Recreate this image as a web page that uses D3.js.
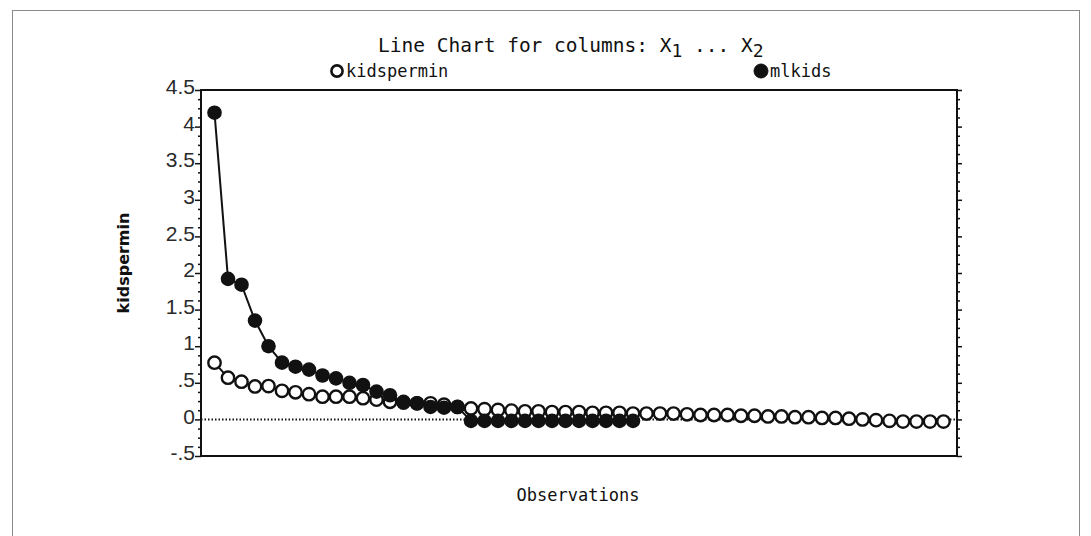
<!DOCTYPE html>
<html>
<head>
<meta charset="utf-8">
<script src="https://cdn.jsdelivr.net/npm/d3@7"></script>
<style>
  html, body { margin: 0; padding: 0; background: #fff; }
  svg { display: block; }
</style>
</head>
<body>
<svg id="chart" width="1091" height="536"></svg>
<script>
// ---- data ----
const title = "Line Chart for columns: ";
const seriesNames = ["kidspermin", "mlkids"];
const kidspermin = [0.775, 0.57, 0.515, 0.45, 0.455, 0.39, 0.37, 0.345, 0.31, 0.31,
  0.31, 0.29, 0.27, 0.24, 0.23, 0.22, 0.22, 0.2, 0.17, 0.15,
  0.14, 0.13, 0.12, 0.11, 0.11, 0.1, 0.1, 0.1, 0.09, 0.09,
  0.09, 0.08, 0.08, 0.08, 0.08, 0.07, 0.06, 0.06, 0.06, 0.05,
  0.05, 0.04, 0.04, 0.03, 0.03, 0.02, 0.02, 0.01, 0.0, -0.01,
  -0.02, -0.03, -0.03, -0.03, -0.03];
const mlkids = [4.19, 1.92, 1.84, 1.35, 1.0, 0.775, 0.72, 0.68, 0.6, 0.56,
  0.5, 0.47, 0.38, 0.33, 0.24, 0.22, 0.17, 0.16, 0.17,
  -0.02, -0.02, -0.02, -0.02, -0.02, -0.02, -0.02, -0.02, -0.02, -0.02,
  -0.02, -0.02, -0.02];
const yTickValues = [-0.5, 0, 0.5, 1, 1.5, 2, 2.5, 3, 3.5, 4, 4.5];
const yTickLabels = ["-.5", "0", ".5", "1", "1.5", "2", "2.5", "3", "3.5", "4", "4.5"];
const yMinorStep = 0.125;
const xLabel = "Observations";
const yLabel = "kidspermin";

// ---- layout ----
const svg = d3.select("#chart");
const L = 201, R = 957, T = 90, B = 456;
const nObs = Math.max(kidspermin.length, mlkids.length);
const x = d3.scaleLinear().domain([0, nObs + 1]).range([L, R]);
const y = d3.scaleLinear().domain([-0.5, 4.5]).range([B, T]);
const monoFont = "'DejaVu Sans Mono', monospace";
const sansFont = "'Liberation Sans', Arial, sans-serif";

// outer page border
svg.append("rect").attr("x", 12.5).attr("y", 10.5).attr("width", 1067).attr("height", 560)
  .attr("fill", "none").attr("stroke", "#8a8a8a").attr("stroke-width", 1);

// title
const t = svg.append("text").attr("x", 378).attr("y", 52)
  .attr("font-family", monoFont).attr("font-size", 19.5).attr("fill", "#111");
t.append("tspan").text(title + "X");
t.append("tspan").attr("font-size", 18).attr("dy", 5).text("1");
t.append("tspan").attr("dy", -5).text(" ... X");
t.append("tspan").attr("font-size", 18).attr("dy", 5).text("2");

// legend
const legend = [{name: seriesNames[0], x: 337, filled: false}, {name: seriesNames[1], x: 761, filled: true}];
legend.forEach(d => {
  svg.append("circle").attr("cx", d.x).attr("cy", 71).attr("r", d.filled ? 7 : 5.6)
    .attr("fill", d.filled ? "#111" : "#fff").attr("stroke", "#111").attr("stroke-width", d.filled ? 1 : 2.6);
  svg.append("text").attr("x", d.x + 9).attr("y", 77).attr("font-family", monoFont)
    .attr("font-size", 17).attr("fill", "#111").text(d.name);
});

// y-axis (left) with minor ticks
const minorTicks = d3.range(-0.5, 4.5 + 1e-9, yMinorStep);
const isMajor = v => Math.abs(v * 2 - Math.round(v * 2)) < 1e-6;
const leftAxis = d3.axisLeft(y).tickValues(minorTicks)
  .tickSize(0).tickFormat(v => {
    const i = yTickValues.findIndex(t => Math.abs(t - v) < 1e-6);
    return i >= 0 ? yTickLabels[i] : "";
  });
const gl = svg.append("g").attr("transform", `translate(${L},0)`).call(leftAxis);
gl.select(".domain").remove();
gl.selectAll(".tick line").attr("x2", d => isMajor(d) ? -6 : -3).attr("stroke", "#111").attr("stroke-width", 1.5);
gl.selectAll(".tick text").attr("x", -6).attr("y", -3)
  .attr("font-family", sansFont).attr("font-size", 21).attr("fill", "#2a2a2a");

// right axis
const rightAxis = d3.axisRight(y).tickValues(minorTicks).tickSize(0).tickFormat("");
const gr = svg.append("g").attr("transform", `translate(${R},0)`).call(rightAxis);
gr.select(".domain").remove();
gr.selectAll(".tick line").attr("x2", d => isMajor(d) ? 5 : 3).attr("stroke", "#111").attr("stroke-width", 1.5);

// frame
svg.append("rect").attr("x", L).attr("y", T).attr("width", R - L).attr("height", B - T)
  .attr("fill", "none").attr("stroke", "#111").attr("stroke-width", 2);

// zero reference line
svg.append("line").attr("x1", L).attr("x2", R).attr("y1", y(0)).attr("y2", y(0))
  .attr("stroke", "#111").attr("stroke-width", 2).attr("stroke-dasharray", "1.5,2");

// axis labels
svg.append("text").attr("transform", `translate(129,${(T + B) / 2 - 10}) rotate(-90)`)
  .attr("text-anchor", "middle").attr("font-family", "'DejaVu Sans', sans-serif")
  .attr("font-weight", "bold").attr("font-size", 16).attr("fill", "#111").text(yLabel);
svg.append("text").attr("x", 578).attr("y", 501).attr("text-anchor", "middle")
  .attr("font-family", monoFont).attr("font-size", 17).attr("fill", "#111").text(xLabel);

// series
const line = d3.line().x((d, i) => x(i + 1)).y(d => y(d));
// kidspermin (open)
svg.append("path").datum(kidspermin).attr("d", line).attr("fill", "none")
  .attr("stroke", "#111").attr("stroke-width", 2);
svg.append("g").selectAll("circle").data(kidspermin).join("circle")
  .attr("cx", (d, i) => x(i + 1)).attr("cy", d => y(d)).attr("r", 6.2)
  .attr("fill", "#fff").attr("stroke", "#111").attr("stroke-width", 2.4);
// mlkids (filled)
svg.append("path").datum(mlkids).attr("d", line).attr("fill", "none")
  .attr("stroke", "#111").attr("stroke-width", 2);
svg.append("g").selectAll("circle").data(mlkids).join("circle")
  .attr("cx", (d, i) => x(i + 1)).attr("cy", d => y(d)).attr("r", 7.3)
  .attr("fill", "#111");
</script>
</body>
</html>
